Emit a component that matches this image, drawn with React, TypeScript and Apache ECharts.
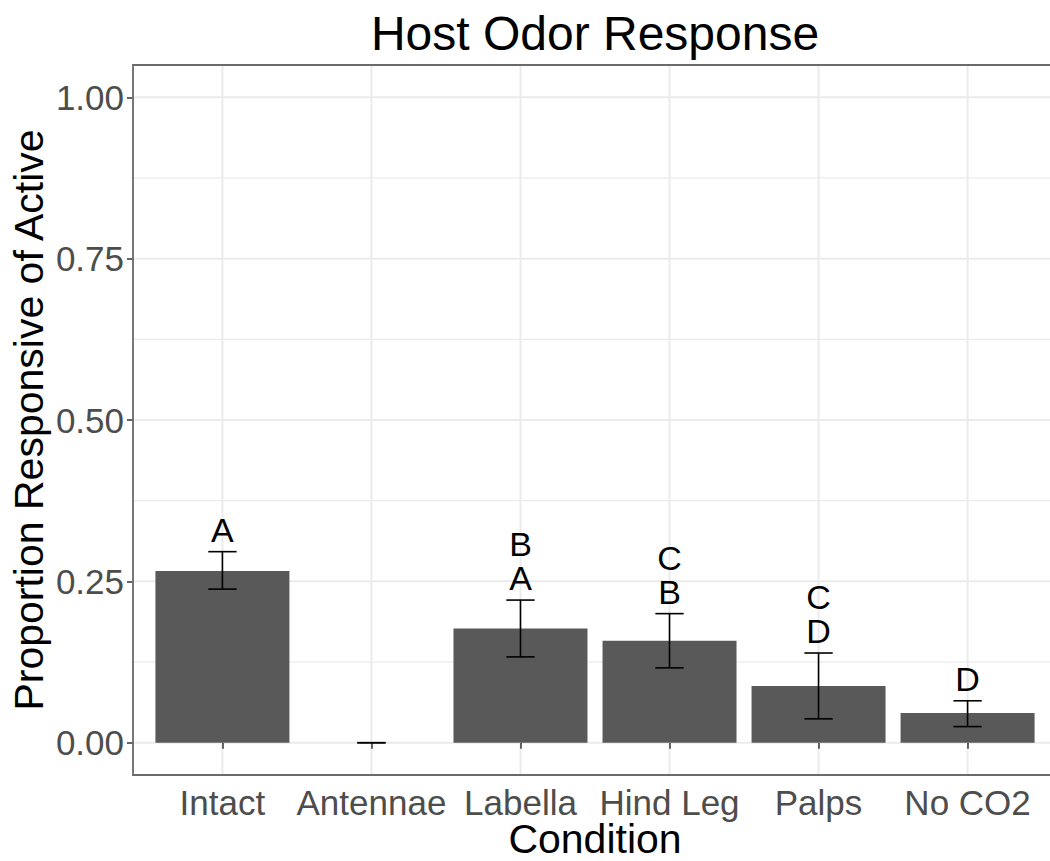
import React, { useEffect, useRef } from "react";
import * as echarts from "echarts";

const categories = ["Intact", "Antennae", "Labella", "Hind Leg", "Palps", "No CO2"];
const proportions = [0.266, 0, 0.177, 0.158, 0.088, 0.046];
const errLow = [0.238, 0, 0.133, 0.116, 0.037, 0.025];
const errHigh = [0.296, 0, 0.221, 0.2, 0.139, 0.065];
const letters = ["A", "", "B\nA", "C\nB", "C\nD", "D"];
const yTicks = [0, 0.25, 0.5, 0.75, 1];
const yMinor = [0.125, 0.375, 0.625, 0.875];

const FONT = "'Liberation Sans', Arial, Helvetica, sans-serif";
const GRID_LEFT = 133;
const GRID_TOP = 65;
const GRID_WIDTH = 924;
const GRID_HEIGHT = 710;
const W = 1050;
const H = 861;
const CHART_W = 1080;

export default function App() {
  const ref = useRef<HTMLDivElement>(null);
  useEffect(() => {
    if (!ref.current) return;
    const chart = echarts.init(ref.current, null, { renderer: "svg" });
    const xPos = categories.map((_, i) => i + 1);
    const panelCx = GRID_LEFT + GRID_WIDTH / 2;
    const panelCy = GRID_TOP + GRID_HEIGHT / 2;
    const gr = GRID_LEFT + GRID_WIDTH;
    const gb = GRID_TOP + GRID_HEIGHT;

    const hGrid = (vals: number[], width: number) => ({
      type: "custom",
      silent: true,
      z: 0,
      data: vals.map((v) => [1, v]),
      encode: { x: 0, y: 1 },
      renderItem: (params: any, api: any) => {
        const p = api.coord([1, api.value(1)]);
        const cs = params.coordSys;
        return {
          type: "line",
          shape: { x1: cs.x, y1: p[1], x2: cs.x + cs.width, y2: p[1] },
          style: { stroke: "#EBEBEB", lineWidth: width },
        };
      },
    });

    const option: any = {
      animation: false,
      backgroundColor: "#ffffff",
      grid: {
        left: GRID_LEFT,
        top: GRID_TOP,
        width: GRID_WIDTH,
        height: GRID_HEIGHT,
        outerBoundsMode: "none",
        containLabel: false,
        show: false,
      },
      xAxis: {
        type: "value",
        min: 0.4,
        max: 6.6,
        axisLine: { show: false },
        splitLine: { show: false },
        axisTick: {
          show: true,
          customValues: xPos,
          length: 6,
          lineStyle: { color: "#333333", width: 1.5 },
        },
        axisLabel: {
          customValues: xPos,
          formatter: (v: number) => categories[Math.round(v) - 1] ?? "",
          color: "#4D4D4D",
          fontSize: 35,
          fontFamily: FONT,
          margin: 10,
        },
      },
      yAxis: {
        type: "value",
        min: -0.05,
        max: 1.05,
        axisLine: { show: false },
        splitLine: { show: false },
        axisTick: {
          show: true,
          customValues: yTicks,
          length: 6,
          lineStyle: { color: "#333333", width: 1.5 },
        },
        axisLabel: {
          customValues: yTicks,
          formatter: (v: number) => v.toFixed(2),
          color: "#4D4D4D",
          fontSize: 35,
          fontFamily: FONT,
          margin: 9,
        },
      },
      graphic: [
        {
          type: "polyline",
          z: 50,
          silent: true,
          shape: {
            points: [
              [gr, GRID_TOP],
              [GRID_LEFT, GRID_TOP],
              [GRID_LEFT, gb],
              [gr, gb],
            ],
          },
          style: { stroke: "#6a6a6a", lineWidth: 1.8, fill: null },
        },
        {
          type: "text",
          x: panelCx,
          y: 33,
          style: {
            text: "Host Odor Response",
            font: `48px ${FONT}`,
            fill: "#000",
            align: "center",
            verticalAlign: "middle",
          },
        },
        {
          type: "text",
          x: panelCx,
          y: 839,
          style: {
            text: "Condition",
            font: `41px ${FONT}`,
            fill: "#000",
            align: "center",
            verticalAlign: "middle",
            lineHeight: 40,
          },
        },
        {
          type: "text",
          x: 29,
          y: panelCy,
          rotation: Math.PI / 2,
          style: {
            text: "Proportion Responsive of Active",
            font: `41px ${FONT}`,
            fill: "#000",
            align: "center",
            verticalAlign: "middle",
          },
        },
      ],
      series: [
        hGrid(yTicks, 2),
        hGrid(yMinor, 1.3),
        {
          type: "custom",
          silent: true,
          z: 0,
          data: xPos.map((x) => [x, 0]),
          encode: { x: 0, y: 1 },
          renderItem: (params: any, api: any) => {
            const p = api.coord([api.value(0), 0]);
            const cs = params.coordSys;
            return {
              type: "line",
              shape: { x1: p[0], y1: cs.y, x2: p[0], y2: cs.y + cs.height },
              style: { stroke: "#EBEBEB", lineWidth: 2 },
            };
          },
        },
        {
          type: "bar",
          z: 2,
          barWidth: 134,
          data: proportions.map((v, i) => [xPos[i], v]),
          itemStyle: { color: "#595959" },
        },
        {
          type: "custom",
          z: 3,
          data: categories.map((_, i) => [xPos[i], errLow[i], errHigh[i]]),
          encode: { x: 0, y: [1, 2] },
          renderItem: (params: any, api: any) => {
            const x = api.value(0);
            const lo = api.coord([x, api.value(1)]);
            const hi = api.coord([x, api.value(2)]);
            const half = api.size([0.095, 0])[0];
            const st = { stroke: "#000", lineWidth: 1.6 };
            const label = letters[params.dataIndex];
            const children: any[] = [
              { type: "line", shape: { x1: lo[0], y1: lo[1], x2: hi[0], y2: hi[1] }, style: st },
              { type: "line", shape: { x1: lo[0] - half, y1: lo[1], x2: lo[0] + half, y2: lo[1] }, style: st },
              { type: "line", shape: { x1: hi[0] - half, y1: hi[1], x2: hi[0] + half, y2: hi[1] }, style: st },
            ];
            if (label) {
              children.push({
                type: "text",
                x: hi[0],
                y: hi[1] - 5,
                style: {
                  text: label,
                  font: `34px ${FONT}`,
                  fill: "#000",
                  align: "center",
                  verticalAlign: "bottom",
                  lineHeight: 34,
                },
              });
            }
            return { type: "group", children };
          },
        },
      ],
    };
    chart.setOption(option);
    return () => chart.dispose();
  }, []);
  return (
    <div style={{ position: "absolute", left: 0, top: 0, width: W, height: H, overflow: "hidden" }}>
      <div ref={ref} style={{ width: CHART_W, height: H }} />
    </div>
  );
}
